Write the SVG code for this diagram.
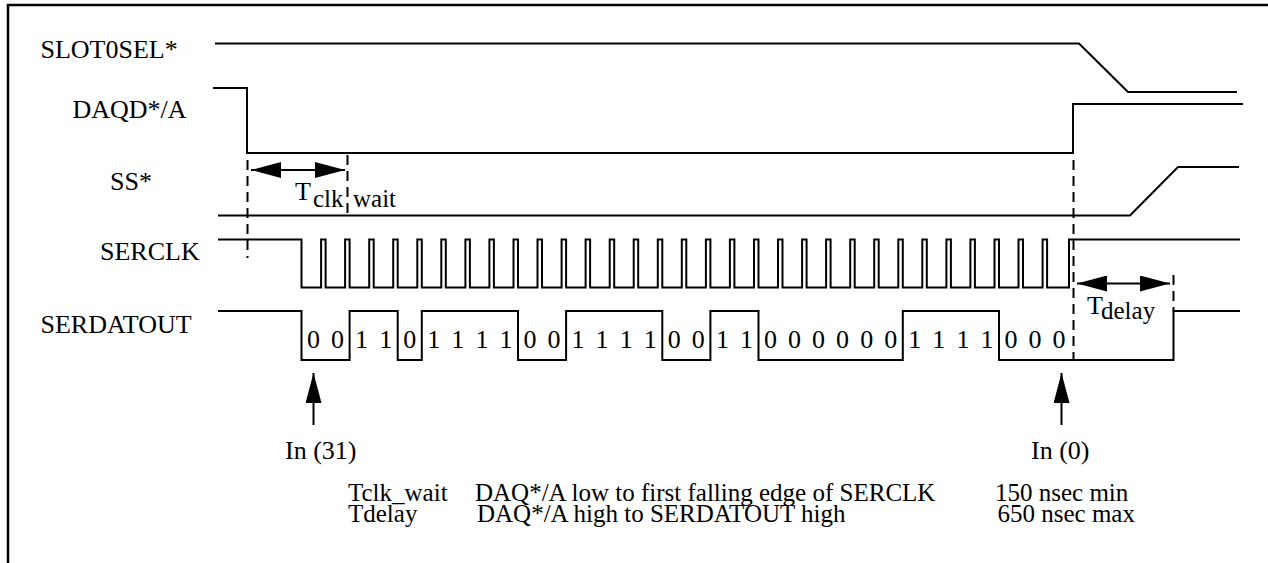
<svg xmlns="http://www.w3.org/2000/svg" width="1268" height="563" viewBox="0 0 1268 563">
<style>
.sig{fill:none;stroke:#000;stroke-width:2;stroke-linejoin:miter}
.dash{fill:none;stroke:#000;stroke-width:2;stroke-dasharray:10 6}
.frame{fill:none;stroke:#000;stroke-width:2.5}
.shaft{fill:none;stroke:#000;stroke-width:2}
text{font-family:"Liberation Serif","Times New Roman",serif;font-size:26px;fill:#000}
.bit{text-anchor:middle}
.sub{font-size:25px}
.tbl{font-size:25px}
</style>
<defs>
<marker id="ah" viewBox="0 0 30 16" refX="30" refY="8" markerWidth="30" markerHeight="16" markerUnits="userSpaceOnUse" orient="auto-start-reverse">
<path d="M0,0 L30,8 L0,16 Z" fill="#000"/>
</marker>
</defs>
<rect width="1268" height="563" fill="#fff"/>
<path class="frame" d="M8,563 V5 H1268"/>

<g id="labels">
<text x="40.5" y="58">SLOT0SEL*</text>
<text x="72.5" y="118">DAQD*/A</text>
<text x="110" y="190">SS*</text>
<text x="100" y="260">SERCLK</text>
<text x="40.5" y="333">SERDATOUT</text>
</g>

<g id="slot0sel">
<path class="sig" d="M215,43.5 H1079 L1128,92 H1237"/>
</g>
<g id="daqd">
<path class="sig" d="M213,88 H247 V153 H1073 V104 H1243"/>
</g>
<g id="ss">
<path class="sig" d="M218,215.5 H1130 L1178,167 H1239"/>
</g>
<g id="serclk">
<path class="sig" d="M218,239.5 H301.5 V287.5 H321.1 V239.5 H325.6 V287.5 H345.1 V239.5 H349.6 V287.5 H369.2 V239.5 H373.7 V287.5 H393.2 V239.5 H397.7 V287.5 H417.3 V239.5 H421.8 V287.5 H441.3 V239.5 H445.8 V287.5 H465.4 V239.5 H469.9 V287.5 H489.4 V239.5 H493.9 V287.5 H513.5 V239.5 H518 V287.5 H537.5 V239.5 H542 V287.5 H561.6 V239.5 H566.1 V287.5 H585.6 V239.5 H590.1 V287.5 H609.7 V239.5 H614.2 V287.5 H633.7 V239.5 H638.2 V287.5 H657.8 V239.5 H662.3 V287.5 H681.8 V239.5 H686.3 V287.5 H705.9 V239.5 H710.4 V287.5 H729.9 V239.5 H734.4 V287.5 H754 V239.5 H758.5 V287.5 H778 V239.5 H782.5 V287.5 H802.1 V239.5 H806.6 V287.5 H826.1 V239.5 H830.6 V287.5 H850.2 V239.5 H854.7 V287.5 H874.2 V239.5 H878.7 V287.5 H898.3 V239.5 H902.8 V287.5 H922.3 V239.5 H926.8 V287.5 H946.4 V239.5 H950.9 V287.5 H970.4 V239.5 H974.9 V287.5 H994.5 V239.5 H999 V287.5 H1018.5 V239.5 H1023 V287.5 H1042.6 V239.5 H1047.1 V287.5 H1069 V239.5 H1240"/>
</g>
<g id="serdatout">
<path class="sig" d="M218,311 H301.5 V360 H349.6 V311 H397.7 V360 H421.8 V311 H518 V360 H566.1 V311 H662.3 V360 H710.4 V311 H758.5 V360 H902.8 V311 H999 V360 H1173.5 V311 H1240"/>
<g id="bits">
<text class="bit" x="313.5" y="348">0</text><text class="bit" x="337.6" y="348">0</text>
<text class="bit" x="361.6" y="348">1</text><text class="bit" x="385.7" y="348">1</text>
<text class="bit" x="409.7" y="348">0</text>
<text class="bit" x="433.8" y="348">1</text><text class="bit" x="457.8" y="348">1</text><text class="bit" x="481.9" y="348">1</text><text class="bit" x="505.9" y="348">1</text>
<text class="bit" x="530" y="348">0</text><text class="bit" x="554" y="348">0</text>
<text class="bit" x="578.1" y="348">1</text><text class="bit" x="602.1" y="348">1</text><text class="bit" x="626.2" y="348">1</text><text class="bit" x="650.2" y="348">1</text>
<text class="bit" x="674.3" y="348">0</text><text class="bit" x="698.3" y="348">0</text>
<text class="bit" x="722.4" y="348">1</text><text class="bit" x="746.4" y="348">1</text>
<text class="bit" x="770.5" y="348">0</text><text class="bit" x="794.5" y="348">0</text><text class="bit" x="818.6" y="348">0</text><text class="bit" x="842.6" y="348">0</text><text class="bit" x="866.7" y="348">0</text><text class="bit" x="890.7" y="348">0</text>
<text class="bit" x="914.8" y="348">1</text><text class="bit" x="938.8" y="348">1</text><text class="bit" x="962.9" y="348">1</text><text class="bit" x="986.9" y="348">1</text>
<text class="bit" x="1011" y="348">0</text><text class="bit" x="1035" y="348">0</text><text class="bit" x="1059.1" y="348">0</text>
</g>
</g>

<g id="tclk_wait">
<path class="dash" d="M247.5,160 V258"/>
<path class="dash" d="M347.5,155 V215"/>
<text x="295" y="200">T</text>
<text class="sub" x="313" y="207">clk</text>
<text class="sub" x="353" y="207">wait</text>
</g>
<g id="tdelay">
<path class="dash" d="M1073.5,160 V360"/>
<path class="dash" d="M1173.5,275 V311"/>
<text x="1087" y="314">T</text>
<text class="sub" x="1101" y="319">delay</text>
</g>

<g id="connectors">
<path class="shaft" d="M251,170 H345" marker-start="url(#ah)" marker-end="url(#ah)"/>
<path class="shaft" d="M1077,283.5 H1170" marker-start="url(#ah)" marker-end="url(#ah)"/>
<path class="shaft" d="M313.5,425 V373" marker-end="url(#ah)"/>
<path class="shaft" d="M1061.5,425 V373" marker-end="url(#ah)"/>
</g>

<g id="markers-text">
<text x="285" y="459">In (31)</text>
<text x="1031" y="459">In (0)</text>
</g>

<g id="table">
<text class="tbl" x="348" y="501">Tclk_wait</text>
<text class="tbl" x="475" y="501">DAQ*/A low to first falling edge of SERCLK</text>
<text class="tbl" x="995" y="501">150 nsec min</text>
<text class="tbl" x="348" y="522">Tdelay</text>
<text class="tbl" x="477" y="522">DAQ*/A high to SERDATOUT high</text>
<text class="tbl" x="997.5" y="522">650 nsec max</text>
</g>
</svg>
